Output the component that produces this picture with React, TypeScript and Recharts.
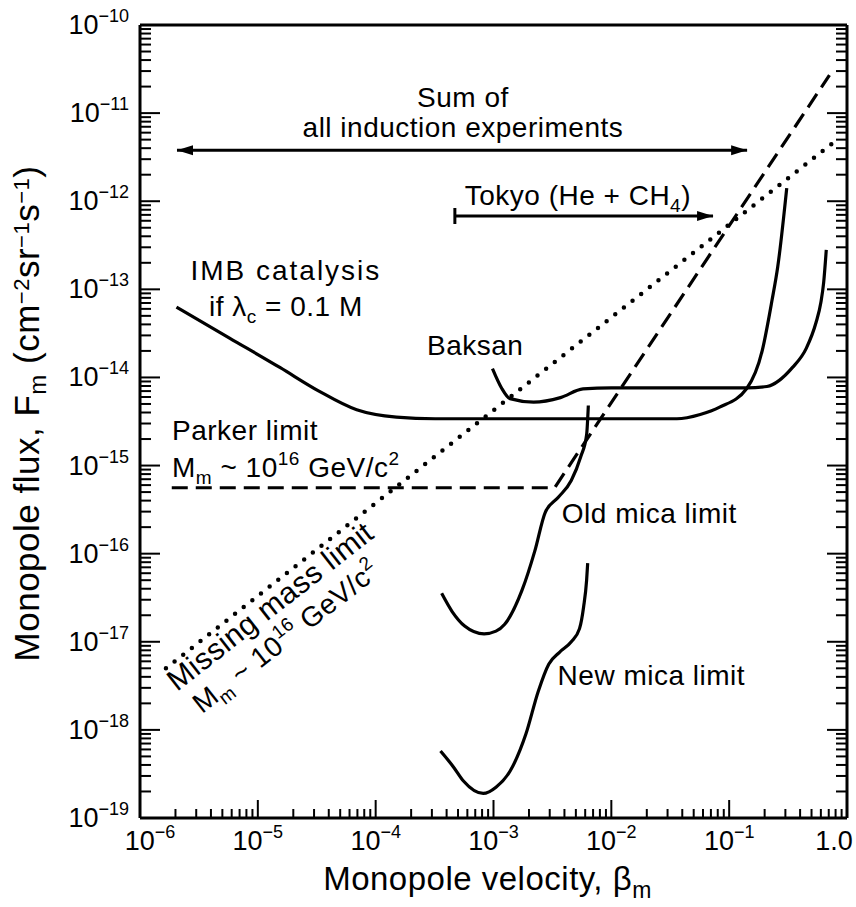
import React from "react";
import { LineChart, Line, XAxis, YAxis, ReferenceDot, ReferenceLine } from "recharts";

const FONT = '"Liberation Sans", Arial, Helvetica, sans-serif';

// ---- series values (beta_m, flux) ----
const imbX = [2.04e-6, 5.75e-6, 1.55e-5, 3.24e-5, 6.9e-5, 1.5e-4, 3.2e-4, 0.036, 0.0568, 0.083, 0.141, 0.191, 0.231, 0.258, 0.308];
const imbY = [6.3e-14, 2.8e-14, 1.29e-14, 7.1e-15, 4.3e-15, 3.55e-15, 3.4e-15, 3.4e-15, 3.8e-15, 4.6e-15, 7.5e-15, 2.03e-14, 7.5e-14, 1.78e-13, 1.41e-12];

const baksanX = [9.8e-4, 1.17e-3, 1.38e-3, 2.19e-3, 3.7e-3, 5.75e-3, 0.01, 0.141, 0.209, 0.345, 0.451, 0.546, 0.6, 0.634, 0.667];
const baksanY = [1.26e-14, 7.6e-15, 5.75e-15, 5.25e-15, 5.9e-15, 7.4e-15, 7.6e-15, 7.6e-15, 7.9e-15, 1.3e-14, 2.14e-14, 4.2e-14, 7.1e-14, 1.2e-13, 2.8e-13];

const oldMicaX = [3.63e-4, 4.47e-4, 5.69e-4, 8.32e-4, 1.05e-3, 1.245e-3, 1.74e-3, 2.24e-3, 2.75e-3, 3.55e-3, 4.57e-3, 5.5e-3, 6.17e-3, 6.38e-3];
const oldMicaY = [3.55e-17, 2.19e-17, 1.51e-17, 1.23e-17, 1.32e-17, 1.58e-17, 3.8e-17, 1.07e-16, 2.95e-16, 4.37e-16, 6.76e-16, 1.26e-15, 2.24e-15, 4.8e-15];

const newMicaX = [3.55e-4, 4.57e-4, 5.56e-4, 8.18e-4, 1.05e-3, 1.38e-3, 1.88e-3, 2.4e-3, 2.95e-3, 3.63e-3, 4.57e-3, 5.37e-3, 5.82e-3, 6.17e-3, 6.3e-3];
const newMicaY = [5.75e-19, 3.8e-19, 2.63e-19, 1.9e-19, 2.24e-19, 3.39e-19, 8.9e-19, 2.75e-18, 5.6e-18, 7.6e-18, 1.0e-17, 1.41e-17, 2.5e-17, 5.0e-17, 7.8e-17];

const parkerX = [1.86e-6, 3.3e-3, 0.71];
const parkerY = [5.6e-16, 5.6e-16, 2.7e-11];

const massX = [1.66e-6, 0.76];
const massY = [5.0e-18, 4.6e-12];

// arrows (x extent, y level)
const sumArrowX = [2.06e-6, 0.142];
const sumArrowY = 3.8e-12;
const tokyoArrowX = [4.7e-4, 0.073];
const tokyoArrowY = 6.8e-13;

// ---- tick values ----
const xMajor = [1e-6, 1e-5, 1e-4, 1e-3, 1e-2, 1e-1, 1];
const yMajor = [1e-19, 1e-18, 1e-17, 1e-16, 1e-15, 1e-14, 1e-13, 1e-12, 1e-11, 1e-10];

const zip = (xs: number[], ys: number[]) => xs.map((x, i) => ({ x, y: ys[i] }));
const withMinors = (majors: number[]) => {
  const out: number[] = [];
  majors.forEach((m, i) => {
    out.push(m);
    if (i < majors.length - 1) for (let k = 2; k <= 9; k++) out.push(k * m);
  });
  return out;
};
const xTicks = withMinors(xMajor);
const yTicks = withMinors(yMajor);
const isMajor = (v: number) => Math.abs(Math.log10(v) - Math.round(Math.log10(v))) < 1e-6;
const MINUS = "\u2212";

const BottomTick = (p: any) => {
  const { x, y, payload } = p;
  const v = payload.value;
  const maj = isMajor(v);
  const e = Math.round(Math.log10(v));
  return (
    <g>
      <line x1={x} y1={y} x2={x} y2={y - (maj ? 18 : 9)} stroke="#000" strokeWidth={2} />
      {maj &&
        (e === 0 ? (
          <text x={x - 13} y={y + 32} textAnchor="middle" fontSize={27} fontFamily={FONT} fill="#000">
            1.0
          </text>
        ) : (
          <text x={x + (e === -6 ? 10 : 0)} y={y + 32} textAnchor="middle" fontSize={27} fontFamily={FONT} fill="#000">
            10
            <tspan dy={-12} fontSize={18}>
              {MINUS + -e}
            </tspan>
          </text>
        ))}
    </g>
  );
};

const TopTick = (p: any) => {
  const { x, y, payload } = p;
  const maj = isMajor(payload.value);
  return <line x1={x} y1={y} x2={x} y2={y + (maj ? 18 : 9)} stroke="#000" strokeWidth={2} />;
};

const LeftTick = (p: any) => {
  const { x, y, payload } = p;
  const v = payload.value;
  const maj = isMajor(v);
  const e = Math.round(Math.log10(v));
  return (
    <g>
      <line x1={x} y1={y} x2={x + (maj ? 20 : 11)} y2={y} stroke="#000" strokeWidth={2} />
      {maj && (
        <text x={x - 11} y={y + 9} textAnchor="end" fontSize={27} fontFamily={FONT} fill="#000">
          10
          <tspan dy={-12} fontSize={18}>
            {MINUS + -e}
          </tspan>
        </text>
      )}
    </g>
  );
};

const RightTick = (p: any) => {
  const { x, y, payload } = p;
  const maj = isMajor(payload.value);
  return <line x1={x} y1={y} x2={x - (maj ? 20 : 11)} y2={y} stroke="#000" strokeWidth={2} />;
};

const XTitle = (props: any) => {
  const vb = props.viewBox || {};
  const cx = vb.x + vb.width / 2 - 6;
  return (
    <text x={cx} y={vb.y + 72} textAnchor="middle" fontSize={33} letterSpacing={0.5} fontFamily={FONT} fill="#000">
      Monopole velocity, β
      <tspan dy={8} fontSize={23}>
        m
      </tspan>
    </text>
  );
};

const YTitle = (props: any) => {
  const vb = props.viewBox || {};
  const bx = vb.x + 31;
  const cy = vb.y + vb.height / 2 - 8;
  return (
    <text
      x={bx}
      y={cy}
      transform={`rotate(-90 ${bx} ${cy})`}
      textAnchor="middle"
      fontSize={35}
      letterSpacing={0.5}
      fontFamily={FONT}
      fill="#000"
    >
      Monopole flux, F
      <tspan dy={7} fontSize={24}>m</tspan>
      <tspan dy={-7}>{"  (cm"}</tspan>
      <tspan dy={-10} fontSize={22}>{MINUS + "2"}</tspan>
      <tspan dy={10}>sr</tspan>
      <tspan dy={-10} fontSize={22}>{MINUS + "1"}</tspan>
      <tspan dy={10}>s</tspan>
      <tspan dy={-10} fontSize={22}>{MINUS + "1"}</tspan>
      <tspan dy={10}>)</tspan>
    </text>
  );
};

const arrowShape = (startHead: boolean, startBar: boolean) => (p: any) => {
  const { x1, y1, x2, y2 } = p;
  const L = 16;
  const W = 5;
  return (
    <g>
      <line x1={x1} y1={y1} x2={x2} y2={y2} stroke="#000" strokeWidth={3} />
      <polygon points={`${x2},${y2} ${x2 - L},${y2 - W} ${x2 - L},${y2 + W}`} fill="#000" />
      {startHead && <polygon points={`${x1},${y1} ${x1 + L},${y1 - W} ${x1 + L},${y1 + W}`} fill="#000" />}
      {startBar && <line x1={x1} y1={y1 - 8} x2={x1} y2={y1 + 8} stroke="#000" strokeWidth={3} />}
    </g>
  );
};

const TXT = { fontSize: 28, fontFamily: FONT, fill: "#000", letterSpacing: 0.5 };

type Ann = { x: number; y: number; render: (cx: number, cy: number) => React.ReactNode };

const annotations: Ann[] = [
  {
    x: 5.5e-4,
    y: 1.17e-11,
    render: (cx, cy) => (
      <text x={cx} y={cy} textAnchor="middle" {...TXT}>
        <tspan x={cx}>Sum of</tspan>
        <tspan x={cx} dy={30}>
          all induction experiments
        </tspan>
      </text>
    ),
  },
  {
    x: 5.2e-3,
    y: 9.1e-13,
    render: (cx, cy) => (
      <text x={cx} y={cy} textAnchor="middle" {...TXT}>
        Tokyo (He + CH
        <tspan dy={7} fontSize={19}>4</tspan>
        <tspan dy={-7}>)</tspan>
      </text>
    ),
  },
  {
    x: 1.73e-5,
    y: 1.28e-13,
    render: (cx, cy) => (
      <text x={cx} y={cy} textAnchor="middle" {...TXT}>
        <tspan x={cx} letterSpacing={2}>IMB catalysis</tspan>
        <tspan x={cx} dy={36}>
          if λ
        </tspan>
        <tspan dy={7} fontSize={19}>c</tspan>
        <tspan dy={-7}> = 0.1 M</tspan>
      </text>
    ),
  },
  {
    x: 7.0e-4,
    y: 1.8e-14,
    render: (cx, cy) => (
      <text x={cx} y={cy} textAnchor="middle" {...TXT}>
        Baksan
      </text>
    ),
  },
  {
    x: 1.87e-6,
    y: 1.95e-15,
    render: (cx, cy) => (
      <text x={cx} y={cy} textAnchor="start" {...TXT}>
        <tspan x={cx}>Parker limit</tspan>
        <tspan x={cx} dy={37}>
          M
        </tspan>
        <tspan dy={7} fontSize={19}>m</tspan>
        <tspan dy={-7}> ~ 10</tspan>
        <tspan dy={-12} fontSize={19}>16</tspan>
        <tspan dy={12}> GeV/c</tspan>
        <tspan dy={-12} fontSize={19}>2</tspan>
      </text>
    ),
  },
  {
    x: 3.8e-3,
    y: 2.23e-16,
    render: (cx, cy) => (
      <text x={cx} y={cy} textAnchor="start" {...TXT}>
        Old mica limit
      </text>
    ),
  },
  {
    x: 3.5e-3,
    y: 3.2e-18,
    render: (cx, cy) => (
      <text x={cx} y={cy} textAnchor="start" {...TXT}>
        New mica limit
      </text>
    ),
  },
  {
    x: 2.06e-6,
    y: 2.7e-18,
    render: (cx, cy) => (
      <text x={cx} y={cy} textAnchor="start" transform={`rotate(-38 ${cx} ${cy})`} {...TXT} fontSize={30}>
        Missing mass limit
      </text>
    ),
  },
  {
    x: 3.36e-6,
    y: 1.5e-18,
    render: (cx, cy) => (
      <text x={cx} y={cy} textAnchor="start" transform={`rotate(-38 ${cx} ${cy})`} {...TXT}>
        M
        <tspan dy={7} fontSize={19}>m</tspan>
        <tspan dy={-7}> ~ 10</tspan>
        <tspan dy={-12} fontSize={19}>16</tspan>
        <tspan dy={12}> GeV/c</tspan>
        <tspan dy={-12} fontSize={19}>2</tspan>
      </text>
    ),
  },
];

const imbData = zip(imbX, imbY);
const baksanData = zip(baksanX, baksanY);
const oldMicaData = zip(oldMicaX, oldMicaY);
const newMicaData = zip(newMicaX, newMicaY);
const parkerData = zip(parkerX, parkerY);
const massData = zip(massX, massY);

const axisLine = { stroke: "#000", strokeWidth: 3 };

export default function App() {
  return (
    <div style={{ position: "absolute", top: 0, left: 8, width: 848, height: 907, background: "#fff" }}>
      <LineChart width={848} height={907} margin={{ top: 24, right: 8, bottom: 0, left: 0 }}>
        <XAxis
          dataKey="x"
          type="number"
          scale="log"
          domain={[1e-6, 1]}
          allowDataOverflow
          ticks={xTicks}
          interval={0}
          tickSize={0}
          tickMargin={0}
          tickLine={false}
          tick={BottomTick}
          axisLine={axisLine}
          height={89}
          label={{ content: XTitle }}
        />
        <XAxis
          xAxisId="top"
          orientation="top"
          type="number"
          scale="log"
          domain={[1e-6, 1]}
          allowDataOverflow
          ticks={xTicks}
          interval={0}
          tickSize={0}
          tickMargin={0}
          tickLine={false}
          tick={TopTick}
          axisLine={axisLine}
          height={1}
        />
        <YAxis
          type="number"
          scale="log"
          domain={[1e-19, 1e-10]}
          allowDataOverflow
          ticks={yTicks}
          interval={0}
          tickSize={0}
          tickMargin={0}
          tickLine={false}
          tick={LeftTick}
          axisLine={axisLine}
          width={132}
          label={{ content: YTitle }}
        />
        <YAxis
          yAxisId="right"
          orientation="right"
          type="number"
          scale="log"
          domain={[1e-19, 1e-10]}
          allowDataOverflow
          ticks={yTicks}
          interval={0}
          tickSize={0}
          tickMargin={0}
          tickLine={false}
          tick={RightTick}
          axisLine={axisLine}
          width={1}
        />

        <Line data={massData} dataKey="y" type="linear" stroke="#000" strokeWidth={4.5} strokeDasharray="0 11" strokeLinecap="round" dot={false} activeDot={false} isAnimationActive={false} />
        <Line data={parkerData} dataKey="y" type="linear" stroke="#000" strokeWidth={3.2} strokeDasharray="16 8" dot={false} activeDot={false} isAnimationActive={false} />
        <Line data={imbData} dataKey="y" type="monotone" stroke="#000" strokeWidth={3.2} dot={false} activeDot={false} isAnimationActive={false} />
        <Line data={baksanData} dataKey="y" type="monotone" stroke="#000" strokeWidth={3.2} dot={false} activeDot={false} isAnimationActive={false} />
        <Line data={oldMicaData} dataKey="y" type="monotone" stroke="#000" strokeWidth={3.2} dot={false} activeDot={false} isAnimationActive={false} />
        <Line data={newMicaData} dataKey="y" type="monotone" stroke="#000" strokeWidth={3.2} dot={false} activeDot={false} isAnimationActive={false} />

        <ReferenceLine
          segment={[
            { x: sumArrowX[0], y: sumArrowY },
            { x: sumArrowX[1], y: sumArrowY },
          ]}
          ifOverflow="visible"
          shape={arrowShape(true, false)}
        />
        <ReferenceLine
          segment={[
            { x: tokyoArrowX[0], y: tokyoArrowY },
            { x: tokyoArrowX[1], y: tokyoArrowY },
          ]}
          ifOverflow="visible"
          shape={arrowShape(false, true)}
        />

        {annotations.map((a, i) => (
          <ReferenceDot
            key={i}
            x={a.x}
            y={a.y}
            r={0}
            ifOverflow="visible"
            shape={(p: any) => <g>{a.render(p.cx, p.cy)}</g>}
          />
        ))}
      </LineChart>
    </div>
  );
}
